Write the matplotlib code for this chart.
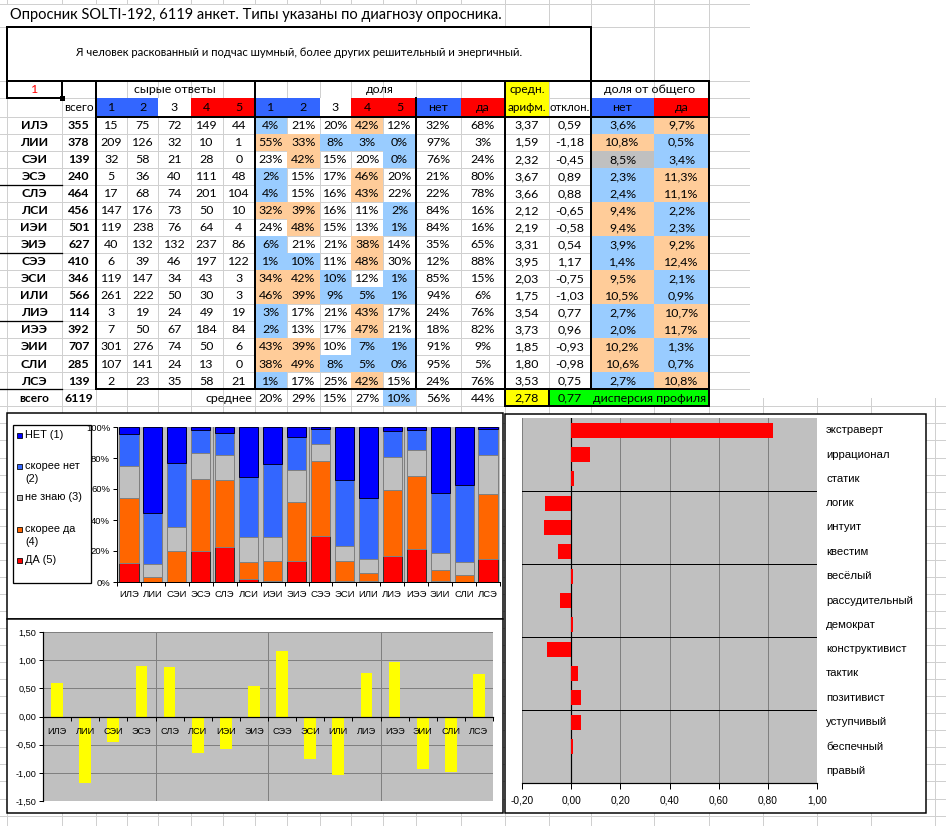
import matplotlib
matplotlib.use('Agg')
import matplotlib.pyplot as plt
from matplotlib.patches import Rectangle
from matplotlib import font_manager
from matplotlib.ft2font import FT2Font
import numpy as np

# ---------------- data ----------------
title = "Опросник SOLTI-192, 6119 анкет. Типы указаны по диагнозу опросника."
question = "Я человек раскованный и подчас шумный, более других решительный и энергичный."
types = ["ИЛЭ", "ЛИИ", "СЭИ", "ЭСЭ", "СЛЭ", "ЛСИ", "ИЭИ", "ЭИЭ",
         "СЭЭ", "ЭСИ", "ИЛИ", "ЛИЭ", "ИЭЭ", "ЭИИ", "СЛИ", "ЛСЭ"]
totals = [355, 378, 139, 240, 464, 456, 501, 627, 410, 346, 566, 114, 392, 707, 285, 139]
raw_counts = [
    [15, 75, 72, 149, 44],
    [209, 126, 32, 10, 1],
    [32, 58, 21, 28, 0],
    [5, 36, 40, 111, 48],
    [17, 68, 74, 201, 104],
    [147, 176, 73, 50, 10],
    [119, 238, 76, 64, 4],
    [40, 132, 132, 237, 86],
    [6, 39, 46, 197, 122],
    [119, 147, 34, 43, 3],
    [261, 222, 50, 30, 3],
    [3, 19, 24, 49, 19],
    [7, 50, 67, 184, 84],
    [301, 276, 74, 50, 6],
    [107, 141, 24, 13, 0],
    [2, 23, 35, 58, 21],
]
share_pct = [
    [4, 21, 20, 42, 12],
    [55, 33, 8, 3, 0],
    [23, 42, 15, 20, 0],
    [2, 15, 17, 46, 20],
    [4, 15, 16, 43, 22],
    [32, 39, 16, 11, 2],
    [24, 48, 15, 13, 1],
    [6, 21, 21, 38, 14],
    [1, 10, 11, 48, 30],
    [34, 42, 10, 12, 1],
    [46, 39, 9, 5, 1],
    [3, 17, 21, 43, 17],
    [2, 13, 17, 47, 21],
    [43, 39, 10, 7, 1],
    [38, 49, 8, 5, 0],
    [1, 17, 25, 42, 15],
]
share_fill = ["b__o_", "oobbb", "_o__b", "b__o_", "b__o_", "oo__b", "_o__b", "b__o_",
              "bb_o_", "oob_b", "oobbb", "b__o_", "b__o_", "oo_bb", "oobbb", "b__o_"]
no_pct = [32, 97, 76, 21, 22, 84, 84, 35, 12, 85, 94, 24, 18, 91, 95, 24]
yes_pct = [68, 3, 24, 80, 78, 16, 16, 65, 88, 15, 6, 76, 82, 9, 5, 76]
mean_score = [3.37, 1.59, 2.32, 3.67, 3.66, 2.12, 2.19, 3.31, 3.95, 2.03, 1.75, 3.54, 3.73, 1.85, 1.80, 3.53]
deviation = [0.59, -1.18, -0.45, 0.89, 0.88, -0.65, -0.58, 0.54, 1.17, -0.75, -1.03, 0.77, 0.96, -0.93, -0.98, 0.75]
total_no_share = [3.6, 10.8, 8.5, 2.3, 2.4, 9.4, 9.4, 3.9, 1.4, 9.5, 10.5, 2.7, 2.0, 10.2, 10.6, 2.7]
total_yes_share = [9.7, 0.5, 3.4, 11.3, 11.1, 2.2, 2.3, 9.2, 12.4, 2.1, 0.9, 10.7, 11.7, 1.3, 0.7, 10.8]
total_fill = ["bo", "ob", "gb", "bo", "bo", "ob", "ob", "bo", "bo", "ob", "ob", "bo", "bo", "ob", "ob", "bo"]
grand_total = 6119
avg_share_pct = [20, 29, 15, 27, 10]
avg_share_fill = "____b"
avg_no_pct, avg_yes_pct = 56, 44
avg_mean, avg_dev = 2.78, 0.77
answer_labels = ["НЕТ (1)", "скорее нет\n(2)", "не знаю (3)", "скорее да\n(4)", "ДА (5)"]
traits = ["экстраверт", "иррационал", "статик", "логик", "интуит", "квестим", "весёлый",
          "рассудительный", "демократ", "конструктивист", "тактик", "позитивист",
          "уступчивый", "беспечный", "правый"]
trait_values = [0.82, 0.075, 0.013, -0.108, -0.112, -0.055, 0.006, -0.047, 0.006,
                -0.100, 0.026, 0.038, 0.038, 0.006, 0.0]

# ---------------- fonts ----------------
def pick_font(cands, test='Я'):
    for name in cands:
        try:
            path = font_manager.findfont(font_manager.FontProperties(family=name),
                                         fallback_to_default=False)
            f = FT2Font(path)
            if f.get_char_index(ord(test)):
                return name
        except Exception:
            pass
    return 'DejaVu Sans'

CELL_FONT = pick_font(['Lato', 'Open Sans', 'Noto Sans'])
CHART_FONT = pick_font(['Liberation Sans', 'Arimo', 'DejaVu Sans'])
plt.rcParams['font.family'] = [CHART_FONT, 'DejaVu Sans']

# ---------------- colours ----------------
LBLUE, LORANGE, LGRAY = '#99CCFF', '#FFCC99', '#C0C0C0'
BLUE, RED, YELLOW, GREEN = '#3366FF', '#FF0000', '#FFFF00', '#00FF00'
GRID = '#D0D0D0'
fillmap = {'b': LBLUE, 'o': LORANGE, 'g': LGRAY}
FS = 8.9

W, H = 946, 826
PX = 0.72  # points per pixel
fig = plt.figure(figsize=(W / 100, H / 100), dpi=100)
base = fig.add_axes([0, 0, 1, 1])
base.set_xlim(0, W)
base.set_ylim(H, 0)
base.axis('off')


def line(x0, y0, x1, y1, color='black', lw=1.0, z=5):
    base.plot([x0, x1], [y0, y1], color=color, lw=lw * PX, solid_capstyle='projecting', zorder=z)


def rect(x0, y0, x1, y1, fc, ec='none', lw=0, z=3):
    base.add_patch(Rectangle((x0, y0), x1 - x0, y1 - y0, facecolor=fc, edgecolor=ec,
                             lw=lw * PX, zorder=z))


def txt(x, y, s, size=FS, ha='center', color='black', weight='normal', z=6, family=None):
    base.text(x, y, s, ha=ha, va='center', fontsize=size, color=color, weight=weight,
              family=family or [CELL_FONT, 'DejaVu Sans'], zorder=z)


# ---------------- spreadsheet grid ----------------
col_x = [6.5, 62, 95.5, 127.2, 158.4, 190.5, 222.7, 254.8, 287, 319.5, 351, 383.4, 415.5,
         460.5, 505, 548.7, 591, 654, 709, 763, 817, 871, 935]
row_y = [4, 26.5, 81, 98] + [116.5 + 17.05 * k for k in range(0, 42)]
for y in row_y:
    line(0, y, W, y, GRID, 1, z=1)
for x in col_x:
    if x < 505:
        line(x, 26.5, x, H, GRID, 1, z=1)
        line(x, 0, x, 4, GRID, 1, z=1)
    else:
        line(x, 0, x, H, GRID, 1, z=1)
rect(750, 0, W, 398, 'white', z=2)
rect(6.5, 26.5, 591, 81, 'white', z=2)

# column geometry
raw_x = col_x[2:8]      # 5 raw columns
shr_x = col_x[7:13]     # 5 share columns
c_no = (415.5, 460.5)
c_yes = (460.5, 505)
c_mean = (505, 548.7)
c_dev = (548.7, 591)
c_tno = (591, 654)
c_tyes = (654, 709)


def mid(a, b):
    return (a + b) / 2


def row_top(i):
    return 116.5 + 17.05 * i


# ---------------- title & question ----------------
txt(10, 15.5, title, size=10.5, ha='left')
txt(299, 53, question, size=8.1)
line(6.5, 26.5, 591, 26.5, lw=2)
line(6.5, 26.5, 6.5, 81, lw=2)
line(591, 26.5, 591, 406.3, lw=2)

# ---------------- header ----------------
rect(c_mean[0], 81, c_mean[1], 116.5, YELLOW)
hdr_fill = [BLUE, BLUE, 'white', RED, RED]
for k in range(5):
    rect(raw_x[k], 98, raw_x[k + 1], 116.5, hdr_fill[k])
    rect(shr_x[k], 98, shr_x[k + 1], 116.5, hdr_fill[k])
    txt(mid(raw_x[k], raw_x[k + 1]), 107.5, str(k + 1))
    txt(mid(shr_x[k], shr_x[k + 1]), 107.5, str(k + 1))
rect(c_no[0], 98, c_no[1], 116.5, BLUE)
rect(c_yes[0], 98, c_yes[1], 116.5, RED)
rect(c_tno[0], 98, c_tno[1], 116.5, BLUE)
rect(c_tyes[0], 98, c_tyes[1], 116.5, RED)
txt(mid(*c_no), 107.5, "нет")
txt(mid(*c_yes), 107.5, "да")
txt(mid(*c_mean), 107.5, "арифм.", size=8.4)
txt(mid(*c_dev), 107.5, "отклон.", size=8.2)
txt(mid(*c_tno), 107.5, "нет")
txt(mid(*c_tyes), 107.5, "да")
txt(mid(62, 95.5), 107.5, "всего", size=8.6)
txt(mid(raw_x[0], raw_x[5]), 89.5, "сырые ответы")
txt(mid(shr_x[0], 505), 89.5, "доля")
txt(mid(*c_mean), 89.5, "средн.", size=8.6)
txt(mid(c_tno[0], c_tyes[1]), 89.5, "доля от общего")
# selected cell "1"
base.add_patch(Rectangle((7, 81), 55, 17, facecolor='white', edgecolor='black', lw=2 * PX, zorder=5))
rect(60, 96, 64.5, 100.5, 'black', z=6)
txt(34.5, 89.5, "1", color='#FF0000')

# ---------------- data rows ----------------
for i, t in enumerate(types):
    y0, y1 = row_top(i), row_top(i + 1)
    yc = mid(y0, y1) + 0.3
    txt(34, yc, t, weight='bold')
    txt(mid(62, 95.5), yc, str(totals[i]), weight='bold')
    for k in range(5):
        txt(mid(raw_x[k], raw_x[k + 1]), yc, str(raw_counts[i][k]))
        f = share_fill[i][k]
        if f in fillmap:
            rect(shr_x[k], y0, shr_x[k + 1], y1, fillmap[f])
        txt(mid(shr_x[k], shr_x[k + 1]), yc, f"{share_pct[i][k]}%")
    txt(mid(*c_no), yc, f"{no_pct[i]}%")
    txt(mid(*c_yes), yc, f"{yes_pct[i]}%")
    txt(mid(*c_mean), yc, f"{mean_score[i]:.2f}".replace('.', ','))
    txt(mid(*c_dev), yc, f"{deviation[i]:.2f}".replace('.', ','))
    rect(c_tno[0], y0, c_tno[1], y1, fillmap[total_fill[i][0]])
    rect(c_tyes[0], y0, c_tyes[1], y1, fillmap[total_fill[i][1]])
    txt(mid(*c_tno), yc, f"{total_no_share[i]:.1f}%".replace('.', ','))
    txt(mid(*c_tyes), yc, f"{total_yes_share[i]:.1f}%".replace('.', ','))
    if i % 4 == 3:
        line(0, y1, 62, y1, lw=1.3)

# total row
y0, y1 = row_top(16), row_top(17)
yc = mid(y0, y1) + 0.3
txt(34, yc, "всего", weight='bold', size=8.6)
txt(mid(62, 95.5), yc, str(grand_total), weight='bold')
txt(252, yc, "среднее", ha='right')
for k in range(5):
    if avg_share_fill[k] in fillmap:
        rect(shr_x[k], y0, shr_x[k + 1], y1, fillmap[avg_share_fill[k]])
    txt(mid(shr_x[k], shr_x[k + 1]), yc, f"{avg_share_pct[k]}%")
txt(mid(*c_no), yc, f"{avg_no_pct}%")
txt(mid(*c_yes), yc, f"{avg_yes_pct}%")
rect(c_mean[0], y0, c_mean[1], y1, YELLOW, 'black', 2, z=5)
rect(c_dev[0], y0, c_tyes[1], y1, GREEN, 'black', 2, z=5)
txt(mid(*c_mean), yc, f"{avg_mean:.2f}".replace('.', ','))
txt(mid(*c_dev), yc, f"{avg_dev:.2f}".replace('.', ','))
txt(mid(c_tno[0], c_tyes[1]), yc, "дисперсия профиля")

# thick table borders
line(6.5, 81, 709, 81, lw=2)
line(95.5, 116.5, 709, 116.5, lw=2)
line(95.5, row_top(16), 709, row_top(16), lw=2)
for x, ya in [(95.5, 81), (254.8, 81), (415.5, 98), (505, 81)]:
    line(x, ya, x, row_top(16), lw=2)
line(505, 81, 505, row_top(17), lw=2)
line(709, 81, 709, row_top(17), lw=2)

# ---------------- chart frames ----------------
rect(7, 413, 503, 619, 'white', 'black', 1.5, z=3)
rect(7, 619, 503, 813, 'white', 'black', 1.5, z=3)
rect(505, 414, 926, 813, 'white', 'black', 1.5, z=3)


def px_axes(x0, y0, x1, y1):
    return fig.add_axes([x0 / W, 1 - y1 / H, (x1 - x0) / W, (y1 - y0) / H])


# ---------------- chart 1: stacked 100% bars ----------------
ax1 = px_axes(117, 427, 500, 582)
ax1.set_facecolor(LGRAY)
xpos = np.arange(len(types))
counts = np.array(raw_counts, dtype=float)
shares = counts / np.array(totals, dtype=float)[:, None]
seg_colors = ['#0000FF', BLUE, LGRAY, '#FF6600', RED]
seg_edges = ['#000033', '#808080', '#808080', '#808080', '#333333']
bottom = np.zeros(len(types))
for k in [4, 3, 2, 1, 0]:
    ax1.bar(xpos, shares[:, k], width=0.8, bottom=bottom, color=seg_colors[k],
            edgecolor=seg_edges[k], lw=1.0 * PX, zorder=3)
    bottom += shares[:, k]
for xb in [3.5, 7.5, 11.5]:
    ax1.axvline(xb, color='#808080', lw=1 * PX, zorder=1)
ax1.set_xlim(-0.5, 15.5)
ax1.set_ylim(0, 1)
ax1.set_yticks(np.arange(0, 1.01, 0.2))
ax1.set_yticklabels([f"{int(round(v * 100))}%" for v in np.arange(0, 1.01, 0.2)], fontsize=6.8)
ax1.set_xticks(xpos)
ax1.set_xticklabels(types, fontsize=6.8)
ax1.set_xticks(np.arange(-0.5, 16, 1), minor=True)
ax1.tick_params(axis='x', which='major', length=0, pad=6)
ax1.tick_params(axis='x', which='minor', length=3, width=PX, direction='out')
ax1.tick_params(axis='y', length=3, width=PX, direction='out', pad=2)
for s in ['top', 'right']:
    ax1.spines[s].set_visible(False)
for s in ['left', 'bottom']:
    ax1.spines[s].set_linewidth(1 * PX)

# legend (drawn in the sheet)
rect(13, 425, 91, 583, 'white', 'black', 1.3, z=4)
leg_y = [435, 466, 497, 529, 560]
for k in range(5):
    rect(16.5, leg_y[k] - 2.5, 21.5, leg_y[k] + 2.5, seg_colors[k], 'black', 0.8, z=5)
    parts = answer_labels[k].split('\n')
    for j, p in enumerate(parts):
        txt(25, leg_y[k] + 13 * j, p, size=7.8, ha='left', family=[CHART_FONT, 'DejaVu Sans'])

# ---------------- chart 2: deviation ----------------
ax2 = px_axes(43, 632, 493, 801)
ax2.set_facecolor(LGRAY)
ax2.bar(xpos, deviation, width=0.42, color=YELLOW, edgecolor='none', zorder=3)
ax2.set_xlim(-0.5, 15.5)
ax2.set_ylim(-1.5, 1.5)
yt = np.arange(-1.5, 1.51, 0.5)
ax2.set_yticks(yt)
ax2.set_yticklabels([f"{v:.2f}".replace('.', ',') for v in yt], fontsize=6.6)
for v in yt:
    ax2.axhline(v, color='#808080', lw=1 * PX, zorder=1)
for xb in [3.5, 7.5, 11.5]:
    ax2.axvline(xb, color='#808080', lw=1 * PX, zorder=1)
ax2.spines['bottom'].set_position(('data', 0))
ax2.spines['bottom'].set_zorder(4)
ax2.set_xticks(np.arange(-0.5, 16, 1))
ax2.set_xticklabels([])
ax2.tick_params(axis='x', length=3, width=PX, direction='out')
ax2.tick_params(axis='y', length=3, width=PX, direction='out', pad=2)
for s in ['top', 'right']:
    ax2.spines[s].set_visible(False)
for s in ['left', 'bottom']:
    ax2.spines[s].set_linewidth(1.2 * PX)
for i, t in enumerate(types):
    ax2.annotate(t, (i, 0), xytext=(0, -14.5 * PX), textcoords='offset points',
                 ha='center', va='center', fontsize=6.6, zorder=5)

# ---------------- chart 3: traits ----------------
ax3 = px_axes(522, 418, 817, 783)
ax3.set_facecolor(LGRAY)
ypos = np.arange(len(traits))
ax3.barh(ypos, trait_values, height=0.63, color=RED, edgecolor='none', zorder=3)
ax3.set_xlim(-0.2, 1.0)
ax3.set_ylim(len(traits) - 0.5, -0.5)
xt = np.arange(-0.2, 1.01, 0.2)
ax3.set_xticks(xt)
ax3.set_xticklabels([f"{v:.2f}".replace('.', ',').replace('-0,00', '0,00') for v in xt], fontsize=7.3)
for v in xt:
    ax3.axvline(v, color='#808080', lw=1 * PX, zorder=1)
for yb in [2.5, 5.5, 8.5, 11.5]:
    ax3.axhline(yb, color='black', lw=1 * PX, zorder=2)
ax3.axvline(0, color='black', lw=1.2 * PX, zorder=2.5)
ax3.set_yticks([])
ax3.tick_params(axis='x', length=4, width=PX, direction='out', pad=5)
for s in ['top', 'right', 'left']:
    ax3.spines[s].set_visible(False)
ax3.spines['bottom'].set_linewidth(1.2 * PX)
for i, t in enumerate(traits):
    ax3.annotate(t, (1, i), xycoords=('axes fraction', 'data'), xytext=(9 * PX, 0),
                 textcoords='offset points', ha='left', va='center', fontsize=8.2)

fig.savefig('out.png', dpi=100)
